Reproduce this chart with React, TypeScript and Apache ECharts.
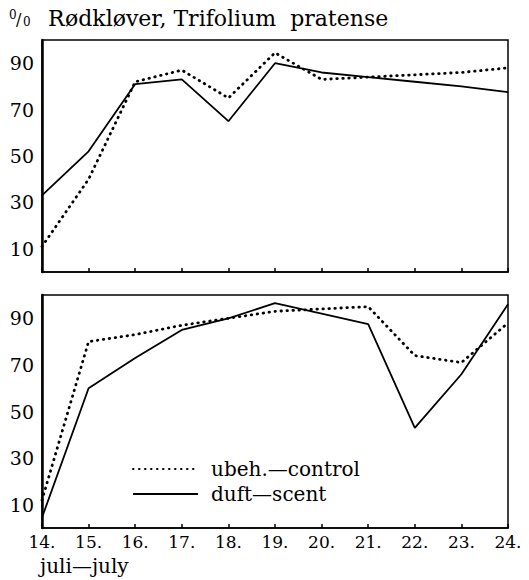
import React, { useEffect, useRef } from "react";
import * as echarts from "echarts";

const days = ["14.", "15.", "16.", "17.", "18.", "19.", "20.", "21.", "22.", "23.", "24."];
const controlName = "ubeh.—control";
const scentName = "duft—scent";
const topControl = [11, 40, 82, 87, 75, 94.5, 83, 84, 85, 86, 88];
const topScent = [33, 52, 81, 83, 65, 90, 86, 84, 82, 80, 77.5];
const bottomControl = [12, 80, 83, 87, 90, 93, 94, 95, 74, 71, 88];
const bottomScent = [4.5, 60, 73, 85, 90, 96.5, 92, 87.5, 43, 66, 96];
const yTickLabels = [10, 30, 50, 70, 90];
const titleText = "Rødkløver, Trifolium  pratense";
const xAxisTitle = "juli—july";

const FONT = "'DejaVu Serif', serif";

export default function App() {
  const ref = useRef<HTMLDivElement>(null);

  useEffect(() => {
    if (!ref.current) return;
    const chart = echarts.init(ref.current, undefined, { renderer: "svg" });

    const yAxisCommon = (gridIndex: number) => ({
      type: "value" as const,
      gridIndex,
      min: 0,
      max: 100,
      interval: 10,
      axisLine: { show: true, lineStyle: { color: "#000", width: 2.5 } },
      axisTick: { show: false },
      splitLine: { show: false },
      axisLabel: {
        formatter: (v: number) => (yTickLabels.includes(v) ? String(v) : ""),
        color: "#000",
        fontFamily: FONT,
        fontSize: 19,
        margin: 8,
      },
    });

    const xAxisCommon = (gridIndex: number, showLabel: boolean) => ({
      type: "category" as const,
      gridIndex,
      data: days,
      boundaryGap: false,
      axisLine: { show: true, lineStyle: { color: "#000", width: 1.5 } },
      axisTick: { show: true, inside: true, length: 4, lineStyle: { color: "#000", width: 1.5 } },
      splitLine: { show: false },
      axisLabel: {
        show: showLabel,
        color: "#000",
        fontFamily: FONT,
        fontSize: 17,
        margin: 5,
      },
    });

    const dotted = { color: "#000", width: 2.8, type: [0.5, 5.5] as number[], cap: "round" as const };
    const solid = { color: "#000", width: 1.8, type: "solid" as const };

    chart.setOption({
      animation: false,
      backgroundColor: "#fff",
      grid: [
        { left: 42, top: 40, width: 466, height: 232, show: true, borderColor: "#000", borderWidth: 1.5, backgroundColor: "transparent" },
        { left: 42, top: 295, width: 466, height: 233, show: true, borderColor: "#000", borderWidth: 1.5, backgroundColor: "transparent" },
      ],
      xAxis: [xAxisCommon(0, false), xAxisCommon(1, true)],
      yAxis: [yAxisCommon(0), yAxisCommon(1)],
      legend: {
        orient: "vertical",
        left: 127,
        top: 454,
        itemWidth: 65,
        itemHeight: 12,
        itemGap: 5,
        data: [controlName, scentName],
        itemStyle: { opacity: 0 },
        textStyle: { color: "#000", fontFamily: FONT, fontSize: 20, padding: [0, 0, 0, 8] },
      },
      series: [
        { name: controlName, type: "line", xAxisIndex: 0, yAxisIndex: 0, data: topControl, symbol: "none", lineStyle: dotted, itemStyle: { color: "#000" } },
        { name: scentName, type: "line", xAxisIndex: 0, yAxisIndex: 0, data: topScent, symbol: "none", lineStyle: solid, itemStyle: { color: "#000" } },
        { name: controlName, type: "line", xAxisIndex: 1, yAxisIndex: 1, data: bottomControl, symbol: "none", lineStyle: dotted, itemStyle: { color: "#000" } },
        { name: scentName, type: "line", xAxisIndex: 1, yAxisIndex: 1, data: bottomScent, symbol: "none", lineStyle: solid, itemStyle: { color: "#000" } },
      ],
      graphic: [
        { type: "text", left: 9, top: 9, style: { text: "0", fontFamily: FONT, fontSize: 12, fill: "#000" } },
        { type: "text", left: 16, top: 11, style: { text: "/", fontFamily: FONT, fontSize: 16, fill: "#000" } },
        { type: "text", left: 23, top: 16, style: { text: "0", fontFamily: FONT, fontSize: 12, fill: "#000" } },
        { type: "text", left: 48, top: 7, style: { text: titleText, fontFamily: FONT, fontSize: 22, fill: "#000" } },
        { type: "text", left: 40, top: 556, style: { text: xAxisTitle, fontFamily: FONT, fontSize: 20, fill: "#000" } },
      ],
    });

    return () => chart.dispose();
  }, []);

  return (
    <div
      ref={ref}
      style={{ position: "absolute", left: 0, top: 0, width: 529, height: 580, background: "#fff" }}
    />
  );
}
